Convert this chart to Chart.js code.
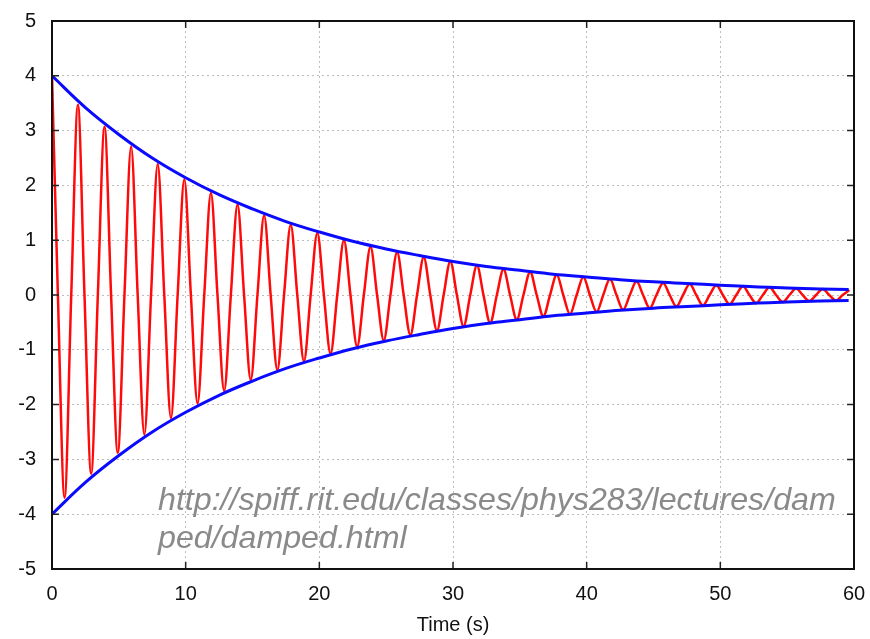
<!DOCTYPE html>
<html>
<head>
<meta charset="utf-8">
<script src="https://cdn.jsdelivr.net/npm/chart.js@4/dist/chart.umd.min.js"></script>
<style>
  html, body { margin: 0; padding: 0; background: #fff; }
  #chart { display: block; }
</style>
</head>
<body>
<canvas id="chart" width="870" height="639"></canvas>
<script>
/* ── Data ── */
const xTicks = [0, 10, 20, 30, 40, 50, 60];
const yTicks = [-5, -4, -3, -2, -1, 0, 1, 2, 3, 4, 5];

// red curve: turning points (peaks / troughs) of the oscillation
const extremeTimes = [
  0, 0.94, 1.94, 2.93, 3.93, 4.92, 5.92, 6.91, 7.91, 8.90, 9.90,
  10.89, 11.89, 12.88, 13.88, 14.87, 15.87, 16.86, 17.86, 18.85, 19.85,
  20.84, 21.84, 22.83, 23.83, 24.82, 25.82, 26.81, 27.81, 28.80, 29.80,
  30.79, 31.79, 32.78, 33.78, 34.77, 35.77, 36.76, 37.76, 38.75, 39.75,
  40.74, 41.74, 42.73, 43.73, 44.72, 45.72, 46.71, 47.71, 48.70, 49.70,
  50.69, 51.69, 52.68, 53.68, 54.67, 55.67, 56.66, 57.66, 58.65, 59.65
];
const extremeValues = [
  4.00, -3.70, 3.47, -3.26, 3.07, -2.88, 2.71, -2.55, 2.39, -2.25, 2.11,
  -1.98, 1.86, -1.75, 1.65, -1.55, 1.45, -1.37, 1.28, -1.21, 1.13,
  -1.07, 1.00, -0.94, 0.88, -0.83, 0.78, -0.73, 0.69, -0.65, 0.61,
  -0.57, 0.54, -0.51, 0.47, -0.45, 0.42, -0.39, 0.37, -0.35, 0.33,
  -0.31, 0.29, -0.27, 0.25, -0.24, 0.22, -0.21, 0.20, -0.19, 0.18,
  -0.17, 0.16, -0.15, 0.14, -0.13, 0.12, -0.11, 0.11, -0.10, 0.09
];
// red curve: where it crosses zero
const zeroTimes = [
  0.44, 1.44, 2.43, 3.43, 4.42, 5.42, 6.41, 7.41, 8.40, 9.40,
  10.39, 11.39, 12.38, 13.38, 14.37, 15.37, 16.36, 17.36, 18.35, 19.35,
  20.34, 21.34, 22.33, 23.33, 24.32, 25.32, 26.31, 27.31, 28.30, 29.30,
  30.29, 31.29, 32.28, 33.28, 34.27, 35.27, 36.26, 37.26, 38.25, 39.25,
  40.24, 41.24, 42.23, 43.23, 44.22, 45.22, 46.21, 47.21, 48.20, 49.20,
  50.19, 51.19, 52.18, 53.18, 54.17, 55.17, 56.16, 57.16, 58.15, 59.15
];

// blue envelope
const envTimes = [
  0, 2.5, 5, 7.5, 10, 12.5, 15, 17.5, 20, 22.5, 25, 27.5, 30,
  32.5, 35, 37.5, 40, 42.5, 45, 47.5, 50, 52.5, 55, 57.5, 59.6
];
const envUpper = [
  4.00, 3.42, 2.93, 2.50, 2.14, 1.83, 1.57, 1.34, 1.15, 0.98, 0.84, 0.72, 0.61,
  0.52, 0.45, 0.38, 0.33, 0.28, 0.24, 0.21, 0.18, 0.15, 0.13, 0.11, 0.10
];
const envLower = [
  -4.00, -3.42, -2.93, -2.50, -2.14, -1.83, -1.57, -1.34, -1.15, -0.98, -0.84, -0.72, -0.61,
  -0.52, -0.45, -0.38, -0.33, -0.28, -0.24, -0.21, -0.18, -0.15, -0.13, -0.11, -0.10
];

const urlLines = ['http://spiff.rit.edu/classes/phys283/lectures/dam', 'ped/damped.html'];

/* ── Build point lists ── */
function buildRedPoints() {
  const pts = extremeTimes.map((t, i) => ({ x: t, y: extremeValues[i] }));
  zeroTimes.forEach(t => pts.push({ x: t, y: 0 }));
  pts.sort((a, b) => a.x - b.x);
  return pts;
}
const toPoints = (xs, ys) => xs.map((x, i) => ({ x: x, y: ys[i] }));

const FONT = "'Liberation Sans', Arial, Helvetica, sans-serif";

/* ── Frame, inward ticks and url text ── */
const framePlugin = {
  id: 'frame',
  afterDatasetsDraw(chart) {
    const { ctx, chartArea: a, scales } = chart;
    ctx.save();
    // url annotation
    ctx.fillStyle = '#8a8a8a';
    let size = 30;
    ctx.font = 'italic ' + size + 'px ' + FONT;
    const w = ctx.measureText(urlLines[0]).width;
    size = size * 678 / w;
    ctx.font = 'italic ' + size + 'px ' + FONT;
    ctx.textBaseline = 'alphabetic';
    ctx.fillText(urlLines[0], 158, 510);
    ctx.fillText(urlLines[1], 158, 548);

    // inward tick marks
    ctx.strokeStyle = '#222';
    ctx.lineWidth = 1.5;
    ctx.beginPath();
    xTicks.forEach(v => {
      const px = scales.x.getPixelForValue(v);
      ctx.moveTo(px, a.bottom); ctx.lineTo(px, a.bottom - 7);
      ctx.moveTo(px, a.top); ctx.lineTo(px, a.top + 7);
    });
    yTicks.forEach(v => {
      const py = scales.y.getPixelForValue(v);
      ctx.moveTo(a.left, py); ctx.lineTo(a.left + 7, py);
      ctx.moveTo(a.right, py); ctx.lineTo(a.right - 7, py);
    });
    ctx.stroke();

    // border box
    ctx.strokeStyle = '#111';
    ctx.lineWidth = 2;
    ctx.strokeRect(a.left, a.top, a.right - a.left, a.bottom - a.top);
    ctx.restore();
  }
};

const gridStyle = {
  color: '#bdbdbd',
  lineWidth: 1,
  drawTicks: false
};

new Chart(document.getElementById('chart').getContext('2d'), {
  type: 'line',
  data: {
    datasets: [
      {
        label: 'upper',
        data: toPoints(envTimes, envUpper),
        borderColor: '#0a0aff',
        borderWidth: 3,
        pointRadius: 0,
        tension: 0.4,
        fill: false,
        order: 0
      },
      {
        label: 'lower',
        data: toPoints(envTimes, envLower),
        borderColor: '#0a0aff',
        borderWidth: 3,
        pointRadius: 0,
        tension: 0.4,
        fill: false,
        order: 0
      },
      {
        label: 'x(t)',
        data: buildRedPoints(),
        borderColor: '#ff0a0a',
        borderWidth: 2.5,
        pointRadius: 0,
        cubicInterpolationMode: 'monotone',
        fill: false,
        order: 1
      }
    ]
  },
  options: {
    responsive: false,
    animation: false,
    layout: { padding: { top: 21, right: 16, bottom: 0, left: 0 } },
    plugins: {
      legend: { display: false },
      tooltip: { enabled: false }
    },
    scales: {
      x: {
        type: 'linear',
        min: 0,
        max: 60,
        afterBuildTicks: s => { s.ticks = xTicks.map(v => ({ value: v })); },
        afterFit: s => { s.height = 70; s.paddingLeft = 0; s.paddingRight = 0; },
        ticks: { color: '#111', font: { size: 20, family: FONT }, padding: 13 },
        grid: Object.assign({}, gridStyle),
        border: { display: false, dash: [2, 3] },
        title: {
          display: true,
          text: 'Time (s)',
          color: '#111',
          font: { size: 20, family: FONT },
          padding: { top: 0, bottom: 2 }
        }
      },
      y: {
        type: 'linear',
        min: -5,
        max: 5,
        afterBuildTicks: s => { s.ticks = yTicks.map(v => ({ value: v })); },
        afterFit: s => { s.width = 52; s.paddingTop = 0; s.paddingBottom = 0; },
        ticks: { color: '#111', font: { size: 20, family: FONT }, padding: 16 },
        grid: Object.assign({}, gridStyle),
        border: { display: false, dash: [2, 3] }
      }
    }
  },
  plugins: [framePlugin]
});
</script>
</body>
</html>
